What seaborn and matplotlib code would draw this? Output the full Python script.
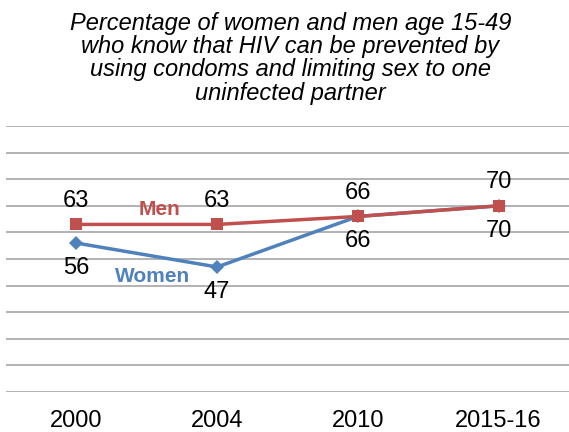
import matplotlib
matplotlib.use("Agg")
import matplotlib.pyplot as plt
import seaborn as sns
import pandas as pd

# values
years = ["2000", "2004", "2010", "2015-16"]
women = [56, 47, 66, 70]
men = [63, 63, 66, 70]
series_names = ["Women", "Men"]
title = ("Percentage of women and men age 15-49\n"
         "who know that HIV can be prevented by\n"
         "using condoms and limiting sex to one\n"
         "uninfected partner")

blue = "#4F81BD"
red = "#C0504D"

sns.set_style("white")
plt.rcParams['font.family'] = ['Liberation Sans', 'DejaVu Sans']
plt.rcParams['text.color'] = "black"
plt.rcParams['xtick.color'] = "black"

df = pd.DataFrame({
    "year": years * 2,
    "pct": women + men,
    "sex": [series_names[0]] * len(years) + [series_names[1]] * len(years),
})

fig = plt.figure(figsize=(5.69, 4.32), dpi=100)
ax = fig.add_axes([0.0105, 0.0926, 0.9895, 0.6157])

# gridlines every 10
for v in range(0, 101, 10):
    ax.axhline(v, color="#A6A6A6", linewidth=1.2, zorder=0)

sns.lineplot(data=df, x="year", y="pct", hue="sex", style="sex",
             palette={"Women": blue, "Men": red},
             markers={"Women": "D", "Men": "s"}, dashes=False,
             markersize=7, linewidth=2.5, markeredgewidth=0,
             legend=False, ax=ax, sort=False)
# bigger squares for men
for line in ax.get_lines():
    if line.get_color() == red:
        line.set_markersize(9)

for i, (w, m) in enumerate(zip(women, men)):
    ax.annotate(str(m), (i, m), xytext=(0, 17), textcoords="offset points",
                ha="center", va="center", fontsize=17)
    ax.annotate(str(w), (i, w), xytext=(0, -18), textcoords="offset points",
                ha="center", va="center", fontsize=17)

ax.text(0.59, 68.8, "Men", color=red, fontsize=15, fontweight="bold",
        ha="center", va="center")
ax.text(0.54, 43.3, "Women", color=blue, fontsize=15, fontweight="bold",
        ha="center", va="center")

ax.set_xlim(-0.5, 3.5)
ax.set_ylim(0, 100)
ax.set_yticks([])
ax.set_xlabel("")
ax.set_ylabel("")
ax.tick_params(axis="x", length=0, labelsize=17, pad=13)
for s in ax.spines.values():
    s.set_visible(False)

fig.text(0.51, 0.865, title, ha="center", va="center", fontsize=17,
         style="italic", linespacing=1.01)

fig.savefig("out.png", dpi=100)
